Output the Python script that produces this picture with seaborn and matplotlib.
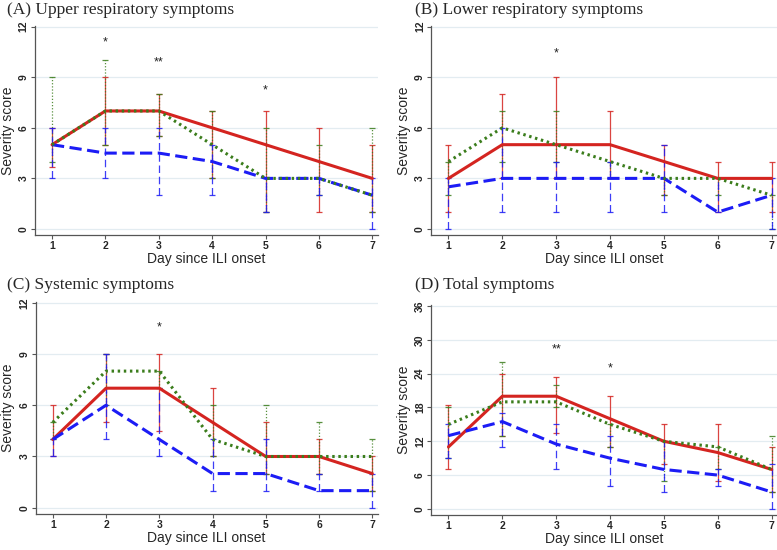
import matplotlib
matplotlib.use('Agg')
import matplotlib.pyplot as plt
import seaborn as sns
import pandas as pd
import numpy as np

# ── data: median score and IQR (q1, q3) per day, rows = red / green / blue group
days = [1, 2, 3, 4, 5, 6, 7]
groups = ['red', 'green', 'blue']

upper_med = [[5, 7, 7, 6, 5, 4, 3],
             [5, 7, 7, 5, 3, 3, 2],
             [5, 4.5, 4.5, 4, 3, 3, 2]]
upper_q1 = [[3.7, 5, 5.5, 3, 1, 1, 1],
            [4, 5, 5.5, 3, 1, 2, 1],
            [3, 3, 2, 2, 1, 2, 0]]
upper_q3 = [[6, 9, 8, 7, 7, 6, 5],
            [9, 10, 8, 7, 6, 5, 6],
            [6, 6, 6, 5, 3, 3, 3]]

lower_med = [[3, 5, 5, 5, 4, 3, 3],
             [4, 6, 5, 4, 3, 3, 2],
             [2.5, 3, 3, 3, 3, 1, 2]]
lower_q1 = [[1, 3, 3, 3, 2, 1, 1],
            [2, 4, 4, 3, 2, 2, 0],
            [0, 1, 1, 1, 1, 1, 0]]
lower_q3 = [[5, 8, 9, 7, 5, 4, 4],
            [4, 7, 7, 4, 3, 3, 2],
            [3, 6, 4, 4, 5, 3, 3]]

system_med = [[4, 7, 7, 5, 3, 3, 2],
              [5, 8, 8, 4, 3, 3, 3],
              [4, 6, 4, 2, 2, 1, 1]]
system_q1 = [[3, 5, 4.5, 3, 2, 2, 1],
             [4, 6, 7, 3, 2, 2, 1],
             [3, 4, 3, 1, 1, 1, 0]]
system_q3 = [[6, 9, 9, 7, 5, 4, 3],
             [5, 9, 8, 6, 6, 5, 4],
             [4, 9, 7, 4, 4, 2, 2]]

total_med = [[11, 20, 20, 16, 12, 10, 7],
             [15, 19, 19, 15, 12, 11, 7],
             [13, 15.5, 11.5, 9, 7, 6, 3]]
total_q1 = [[7, 13, 13.5, 11, 8, 5, 3],
            [9, 13, 18, 11, 5, 7, 3],
            [9, 11, 7, 4, 3, 4, 0]]
total_q3 = [[18.5, 24, 23.5, 20, 15, 15, 11],
            [18, 26, 22, 15, 12, 11, 13],
            [15, 17, 15, 13, 12, 7, 8]]

# significance marks: (day, height, text)
upper_stars = [(2, 11.05, '*'), (3, 9.9, '**'), (5, 8.2, '*')]
lower_stars = [(3, 10.4, '*')]
system_stars = [(3, 10.55, '*')]
total_stars = [(3, 28.3, '**'), (4, 25, '*')]

COLORS = {'red': '#d42420', 'green': '#3b7d1c', 'blue': '#1c1cf5'}
DASHES = {'red': '', 'green': (0.8, 1.2), 'blue': (4, 1.8)}
ERR_LS = {'red': '-', 'green': (0, (1, 1.5)), 'blue': (0, (6, 3))}

sns.set_theme(style='white')
plt.rcParams['font.family'] = ['Liberation Sans', 'DejaVu Sans']

fig = plt.figure(figsize=(7.77, 5.5), dpi=100)

panels = [
    ('(A) Upper respiratory symptoms', upper_med, upper_q1, upper_q3, upper_stars, 12, 3,
     [0.045, 0.573, 0.441, 0.380], 7, 10),
    ('(B) Lower respiratory symptoms', lower_med, lower_q1, lower_q3, lower_stars, 12, 3,
     [0.555, 0.573, 0.445, 0.380], 415, 10),
    ('(C) Systemic symptoms', system_med, system_q1, system_q3, system_stars, 12, 3,
     [0.046, 0.066, 0.440, 0.385], 7, 285),
    ('(D) Total symptoms', total_med, total_q1, total_q3, total_stars, 36, 6,
     [0.555, 0.064, 0.445, 0.381], 415, 285),
]

for title, med, q1, q3, stars, ymax, step, rect, tx, ty in panels:
    ax = fig.add_axes(rect)
    rows = []
    for g, m in zip(groups, med):
        for d, v in zip(days, m):
            rows.append({'day': d, 'score': v, 'group': g})
    df = pd.DataFrame(rows)

    # IQR bars first so the median lines sit on top
    for g, m, lo, hi in zip(groups, med, q1, q3):
        m, lo, hi = np.array(m), np.array(lo), np.array(hi)
        eb = ax.errorbar(days, m, yerr=[m - lo, hi - m], fmt='none',
                         ecolor=COLORS[g], elinewidth=0.9, capsize=2.2,
                         capthick=0.9, alpha=0.85)
        eb[2][0].set_linestyle(ERR_LS[g])

    order = ['red', 'blue', 'green']
    sns.lineplot(data=df, x='day', y='score', hue='group', style='group',
                 hue_order=order, style_order=order, palette=COLORS,
                 dashes=DASHES, linewidth=2.2, ax=ax, legend=False)

    unit = ymax / 12
    ax.set_xlim(0.68, 7.1)
    ax.set_ylim(-0.35 * unit, ymax + 0.05 * unit)
    ax.set_xticks(days)
    ax.set_yticks(np.arange(0, ymax + 1, step))
    ax.tick_params(axis='both', labelsize=7.5, length=3, width=0.8, color='#555555',
                   direction='out', bottom=True, left=True, pad=1.5)
    for lab in ax.get_xticklabels() + ax.get_yticklabels():
        lab.set_fontweight('bold')
    for lab in ax.get_yticklabels():
        lab.set_rotation(90)
        lab.set_va('center')
    ax.grid(axis='y', color='#e3ecf1', linewidth=0.9)
    ax.set_axisbelow(True)
    sns.despine(ax=ax)
    for s in ['left', 'bottom']:
        ax.spines[s].set_color('#555555')
        ax.spines[s].set_linewidth(0.9)
    ax.set_xlabel('Day since ILI onset', fontsize=10, labelpad=1)
    ax.set_ylabel('Severity score', fontsize=10, labelpad=3)

    for d, h, s in stars:
        ax.text(d, h, s, ha='center', va='center', fontsize=9, color='#222222')

    fig.text(tx / 777, 1 - ty / 550, title, ha='left', va='center',
             fontsize=12.5, family=['Liberation Serif', 'DejaVu Serif'])

fig.savefig('out.png', dpi=100, facecolor='white')
